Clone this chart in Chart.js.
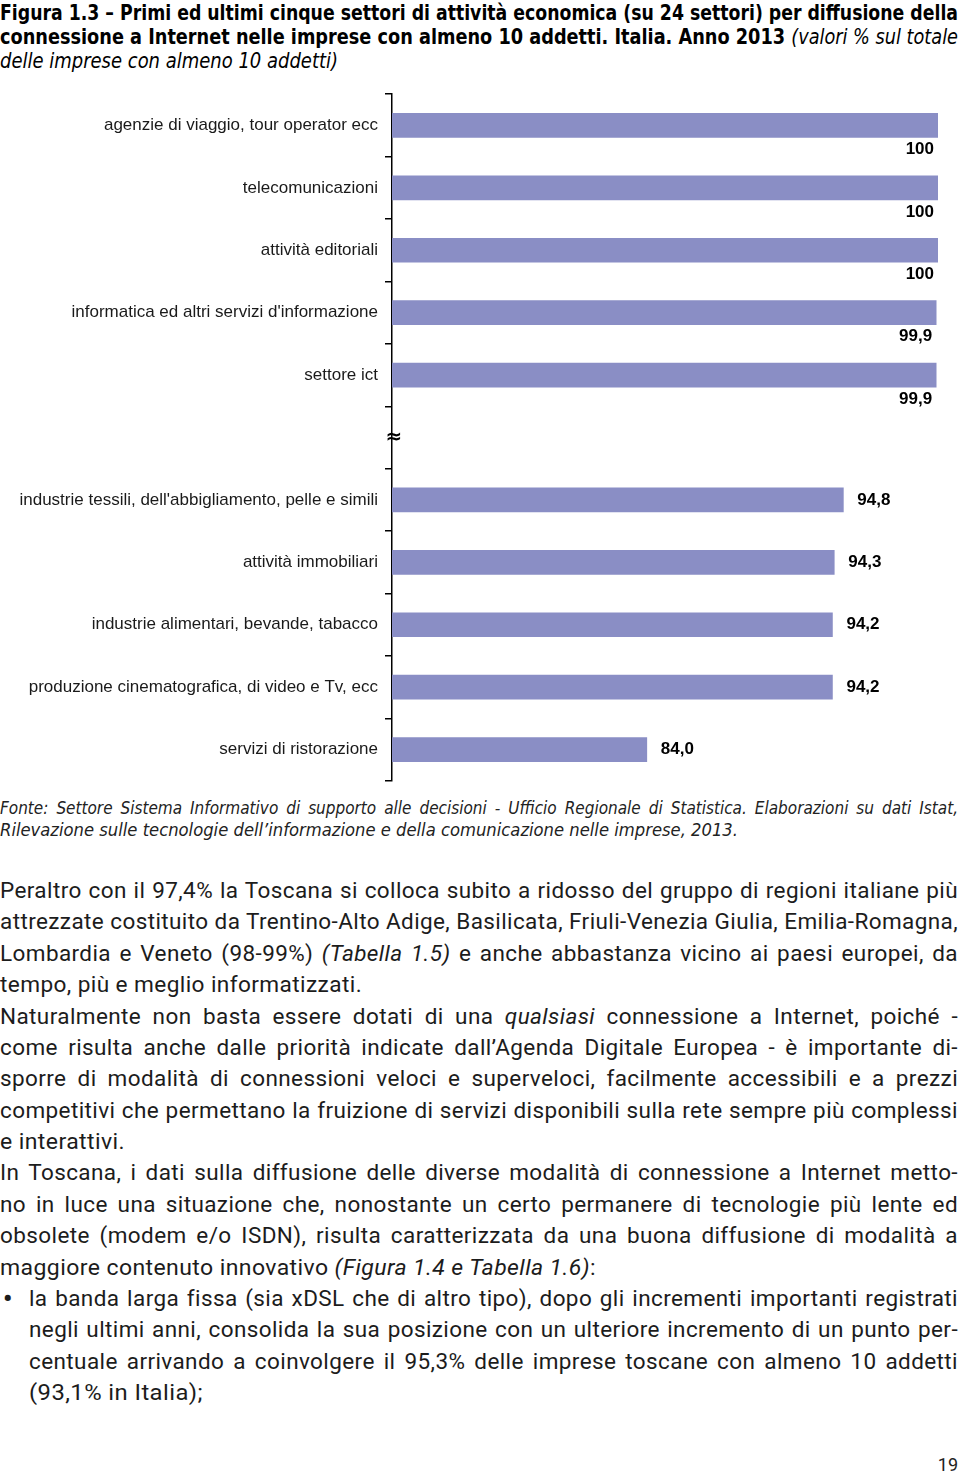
<!DOCTYPE html>
<html lang="it">
<head>
<meta charset="UTF-8">
<script src="https://cdn.jsdelivr.net/npm/chart.js@4/dist/chart.umd.min.js"></script>
<title>Figura 1.3</title>
<style>
  html, body { margin: 0; padding: 0; background: #fff; }
  body { width: 960px; height: 1474px; position: relative; overflow: hidden; }
  .block { position: absolute; left: 0; width: 958px; }
  .line { white-space: nowrap; width: 100%; overflow: visible; }
  .line > span { display: inline-block; transform-origin: left center; }
  #title { top: 1px; font: bold 21px "Liberation Sans Narrow", "DejaVu Sans Condensed", "Liberation Sans", sans-serif; line-height: 24px; color: #000; }
  #title i { font-weight: normal; }
  #source { top: 797px; font: italic 17px "Liberation Sans Narrow", "DejaVu Sans Condensed", "Liberation Sans", sans-serif; line-height: 22px; color: #222; }
  #body { top: 875px; font: 22.5px Roboto, "Liberation Sans", sans-serif; letter-spacing: 0.4px; line-height: 31.375px; color: #1c1c1c; }
  #body .bul { padding-left: 29px; width: 929px; position: relative; }
  #body .dot { position: absolute; left: 3px; top: 0; font-size: 26px; }
  #chartBox { position: absolute; left: 0; top: 77px; width: 960px; height: 721px; }
  #pnum { position: absolute; right: 2px; top: 1454px; font: 18px Roboto, sans-serif; color: #222; }
</style>
</head>
<body>

<div id="title" class="block">
  <div class="line" data-j="1"><span>Figura 1.3 – Primi ed ultimi cinque settori di attività economica (su 24 settori) per diffusione della</span></div>
  <div class="line" data-j="1"><span>connessione a Internet nelle imprese con almeno 10 addetti. Italia. Anno 2013 <i>(valori % sul totale</i></span></div>
  <div class="line" data-w="338"><span><i>delle imprese con almeno 10 addetti)</i></span></div>
</div>

<div id="source" class="block">
  <div class="line" data-j="1"><span>Fonte: Settore Sistema Informativo di supporto alle decisioni - Ufficio Regionale di Statistica. Elaborazioni su dati Istat,</span></div>
  <div class="line" data-w="738"><span>Rilevazione sulle tecnologie dell’informazione e della comunicazione nelle imprese, 2013.</span></div>
</div>

<div id="chartBox"><canvas id="chart" width="960" height="721"></canvas></div>

<div id="body" class="block">
  <div class="line" data-j="1"><span>Peraltro con il 97,4% la Toscana si colloca subito a ridosso del gruppo di regioni italiane più</span></div>
  <div class="line" data-j="1"><span>attrezzate costituito da Trentino-Alto Adige, Basilicata, Friuli-Venezia Giulia, Emilia-Romagna,</span></div>
  <div class="line" data-j="1"><span>Lombardia e Veneto (98-99%) <i>(Tabella 1.5)</i> e anche abbastanza vicino ai paesi europei, da</span></div>
  <div class="line" data-w="362"><span>tempo, più e meglio informatizzati.</span></div>
  <div class="line" data-j="1"><span>Naturalmente non basta essere dotati di una <i>qualsiasi</i> connessione a Internet, poiché -</span></div>
  <div class="line" data-j="1"><span>come risulta anche dalle priorità indicate dall’Agenda Digitale Europea - è importante di-</span></div>
  <div class="line" data-j="1"><span>sporre di modalità di connessioni veloci e superveloci, facilmente accessibili e a prezzi</span></div>
  <div class="line" data-j="1"><span>competitivi che permettano la fruizione di servizi disponibili sulla rete sempre più complessi</span></div>
  <div class="line" data-w="125"><span>e interattivi.</span></div>
  <div class="line" data-j="1"><span>In Toscana, i dati sulla diffusione delle diverse modalità di connessione a Internet metto-</span></div>
  <div class="line" data-j="1"><span>no in luce una situazione che, nonostante un certo permanere di tecnologie più lente ed</span></div>
  <div class="line" data-j="1"><span>obsolete (modem e/o ISDN), risulta caratterizzata da una buona diffusione di modalità a</span></div>
  <div class="line" data-w="596"><span>maggiore contenuto innovativo <i>(Figura 1.4 e Tabella 1.6)</i>:</span></div>
  <div class="line bul" data-j="1"><b class="dot">•</b><span>la banda larga fissa (sia xDSL che di altro tipo), dopo gli incrementi importanti registrati</span></div>
  <div class="line bul" data-j="1"><span>negli ultimi anni, consolida la sua posizione con un ulteriore incremento di un punto per-</span></div>
  <div class="line bul" data-j="1"><span>centuale arrivando a coinvolgere il 95,3% delle imprese toscane con almeno 10 addetti</span></div>
  <div class="line bul" data-w="174"><span>(93,1% in Italia);</span></div>
</div>

<div id="pnum">19</div>

<script>
// dati (la categoria vuota è l'interruzione dell'asse)
const categories = [
  'agenzie di viaggio, tour operator ecc',
  'telecomunicazioni',
  'attività editoriali',
  "informatica ed altri servizi d'informazione",
  'settore ict',
  '',
  "industrie tessili, dell'abbigliamento, pelle e simili",
  'attività immobiliari',
  'industrie alimentari, bevande, tabacco',
  'produzione cinematografica, di video e Tv, ecc',
  'servizi di ristorazione'
];
const values = [100, 100, 100, 99.9, 99.9, null, 94.8, 94.3, 94.2, 94.2, 84.0];
const axisMin = 70, axisMax = 100;
const breakIndex = 5;

const fmt = v => v === 100 ? '100' : v.toFixed(1).replace('.', ',');

const valueLabels = {
  id: 'valueLabels',
  afterDatasetsDraw(chart) {
    const ctx = chart.ctx;
    const meta = chart.getDatasetMeta(0);
    ctx.save();
    ctx.fillStyle = '#000';
    ctx.font = 'bold 17px "Liberation Sans", Arial, sans-serif';
    ctx.textBaseline = 'middle';
    meta.data.forEach((bar, i) => {
      const v = values[i];
      if (v == null) return;
      if (v >= 99) {
        // primi cinque: etichetta sotto la barra
        ctx.textAlign = 'right';
        ctx.fillText(fmt(v), bar.x - 4, bar.y + 24);
      } else {
        ctx.textAlign = 'left';
        ctx.fillText(fmt(v), bar.x + 14, bar.y);
      }
    });
    ctx.restore();
  }
};

const axisBreak = {
  id: 'axisBreak',
  afterDraw(chart) {
    const ctx = chart.ctx;
    const y = chart.scales.y;
    const yy = (y.getPixelForValue(breakIndex - 1) + y.getPixelForValue(breakIndex + 1)) / 2;
    ctx.save();
    ctx.fillStyle = '#000';
    ctx.font = 'bold 20px "DejaVu Sans", sans-serif';
    ctx.textAlign = 'center';
    ctx.textBaseline = 'middle';
    ctx.fillText('≈', chart.chartArea.left + 2, yy);
    ctx.restore();
  }
};

new Chart(document.getElementById('chart'), {
  type: 'bar',
  data: {
    labels: categories,
    datasets: [{
      data: values,
      backgroundColor: '#8a8ec5',
      borderWidth: 0,
      barThickness: 24
    }]
  },
  options: {
    indexAxis: 'y',
    responsive: false,
    animation: false,
    devicePixelRatio: 1,
    layout: { padding: { left: 0, right: 22, top: 0, bottom: 0 } },
    plugins: { legend: { display: false }, tooltip: { enabled: false } },
    scales: {
      x: {
        display: false,
        min: axisMin,
        max: axisMax
      },
      y: {
        afterFit(scale) { scale.width = 392; },
        border: { display: true, color: '#000', width: 1.5 },
        grid: {
          display: true,
          offset: true,
          drawOnChartArea: false,
          drawTicks: true,
          tickLength: 7,
          color: '#000',
          lineWidth: 1.5
        },
        ticks: {
          padding: 7,
          color: '#1a1a1a',
          font: { family: '"Liberation Sans", Arial, sans-serif', size: 17 }
        }
      }
    }
  },
  plugins: [valueLabels, axisBreak]
});

// adatta ogni riga di testo alla sua larghezza (giustificazione come nella pagina)
function fitLines() {
  document.querySelectorAll('.line').forEach(div => {
    const span = div.querySelector('span');
    span.style.wordSpacing = '0px';
    span.style.transform = 'none';
    const w = span.getBoundingClientRect().width;
    const target = div.dataset.w ? +div.dataset.w : div.clientWidth - (parseFloat(getComputedStyle(div).paddingLeft) || 0);
    if (div.dataset.w) {
      span.style.transform = 'scaleX(' + (target / w) + ')';
      return;
    }
    if (w > target) {
      span.style.transform = 'scaleX(' + (target / w) + ')';
    } else if (div.dataset.j) {
      const spaces = (span.textContent.match(/ /g) || []).length;
      if (spaces) span.style.wordSpacing = ((target - w) / spaces) + 'px';
    }
  });
}
if (document.fonts && document.fonts.ready) document.fonts.ready.then(fitLines);
fitLines();
</script>
</body>
</html>
